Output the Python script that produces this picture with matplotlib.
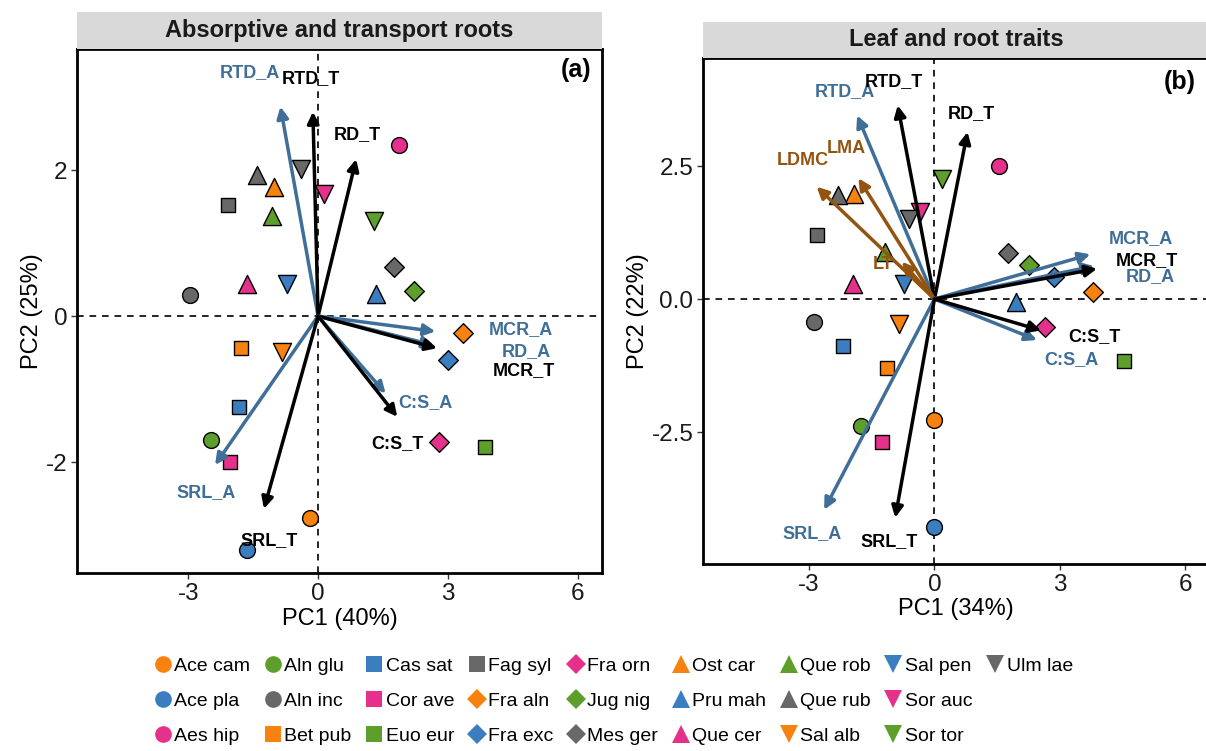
import matplotlib
matplotlib.use('Agg')
import matplotlib.pyplot as plt
from matplotlib.lines import Line2D

plt.rcParams['font.family'] = ['Liberation Sans', 'DejaVu Sans']
plt.rcParams['axes.unicode_minus'] = False

# species (alphabetical, as in the legend)
species = ['Ace cam', 'Ace pla', 'Aes hip', 'Aln glu', 'Aln inc',
           'Bet pub', 'Cas sat', 'Cor ave', 'Euo eur', 'Fag syl',
           'Fra aln', 'Fra exc', 'Fra orn', 'Jug nig', 'Mes ger',
           'Ost car', 'Pru mah', 'Que cer', 'Que rob', 'Que rub',
           'Sal alb', 'Sal pen', 'Sor auc', 'Sor tor', 'Ulm lae']

# panel (a) scores
pc1_a = [-0.19, -1.64, 1.87, -2.47, -2.97, -1.77, -1.82, -2.04, 3.85, -2.09,
         3.34, 3.00, 2.80, 2.22, 1.76, -1.01, 1.33, -1.65, -1.07, -1.41,
         -0.84, -0.71, 0.14, 1.30, -0.39]
pc2_a = [-2.77, -3.20, 2.34, -1.70, 0.29, -0.44, -1.25, -2.00, -1.80, 1.52,
         -0.23, -0.60, -1.73, 0.35, 0.67, 1.77, 0.30, 0.44, 1.37, 1.93,
         -0.49, 0.44, 1.68, 1.31, 2.02]

# panel (b) scores
pc1_b = [0.00, 0.00, 1.55, -1.76, -2.89, -1.13, -2.18, -1.25, 4.54, -2.81,
         3.80, 2.87, 2.64, 2.27, 1.76, -1.93, 1.96, -1.94, -1.19, -2.30,
         -0.86, -0.72, -0.34, 0.19, -0.60]
pc2_b = [-2.28, -4.29, 2.50, -2.39, -0.44, -1.29, -0.89, -2.69, -1.16, 1.21,
         0.13, 0.41, -0.53, 0.64, 0.87, 1.98, -0.05, 0.29, 0.89, 1.95,
         -0.46, 0.29, 1.64, 2.26, 1.51]

# loadings panel (a)
traits_a = ['RTD_A', 'RTD_T', 'RD_T', 'MCR_A', 'RD_A', 'MCR_T', 'C:S_A', 'C:S_T', 'SRL_A', 'SRL_T']
load1_a = [-0.87, -0.12, 0.88, 2.71, 2.68, 2.75, 1.56, 1.83, -2.38, -1.25]
load2_a = [2.87, 2.80, 2.15, -0.21, -0.40, -0.44, -1.06, -1.38, -2.04, -2.64]
lab1_a = [-1.57, -0.16, 0.90, 4.68, 4.81, 4.75, 2.49, 1.83, -2.59, -1.13]
lab2_a = [3.34, 3.26, 2.49, -0.19, -0.49, -0.75, -1.18, -1.74, -2.42, -3.07]

# loadings panel (b)
traits_b = ['RTD_A', 'RTD_T', 'RD_T', 'LDMC', 'LMA', 'LT', 'MCR_A', 'RD_A', 'MCR_T',
            'C:S_A', 'C:S_T', 'SRL_A', 'SRL_T']
load1_b = [-1.85, -0.88, 0.79, -2.82, -1.82, -0.78, 3.73, 3.82, 3.89, 2.45, 2.55, -2.64, -0.94]
load2_b = [3.45, 3.64, 3.14, 2.11, 2.27, 0.70, 0.84, 0.62, 0.57, -0.77, -0.59, -3.96, -4.11]
lab1_b = [-2.15, -0.97, 0.88, -3.15, -2.11, -1.23, 4.93, 5.16, 5.08, 3.27, 3.84, -2.93, -1.08]
lab2_b = [3.89, 4.08, 3.48, 2.61, 2.83, 0.64, 1.14, 0.43, 0.73, -1.13, -0.71, -4.41, -4.55]

# styles
fill = {'orange': '#F8820F', 'blue': '#3B7DBF', 'pink': '#E5308C',
        'green': '#5E9F2C', 'grey': '#686868'}
colour_cycle = ['orange', 'blue', 'pink', 'green', 'grey']
shape_cycle = ['o', 's', 'D', '^', 'v']
shape_size = {'o': 130, 's': 110, 'D': 100, '^': 170, 'v': 170}
legend_size = {'o': 12, 's': 11, 'D': 10, '^': 13, 'v': 13}
arrow_col = {'A': '#3F6E98', 'T': 'black', 'L': '#93540F'}


def trait_group(t):
    if t.endswith('_A'):
        return 'A'
    if t.endswith('_T'):
        return 'T'
    return 'L'


def panel(ax, x, y, traits, l1, l2, t1, t2, title, tag, xlab, ylab,
          xlim, ylim, yticks, tag_xy, strip_rect):
    ax.axhline(0, color='black', lw=1.2, ls=(0, (4, 3.5)), zorder=1)
    ax.axvline(0, color='black', lw=1.2, ls=(0, (4, 3.5)), zorder=1)
    for i in range(len(species)):
        mk = shape_cycle[i // 5]
        ax.scatter(x[i], y[i], s=shape_size[mk], marker=mk,
                   color=fill[colour_cycle[i % 5]], edgecolor='black',
                   linewidth=1.0, zorder=2)
    for i, t in enumerate(traits):
        c = arrow_col[trait_group(t)]
        ax.annotate('', xy=(l1[i], l2[i]), xytext=(0, 0),
                    arrowprops=dict(arrowstyle='-|>', color=c, lw=2.5,
                                    mutation_scale=17, shrinkA=0, shrinkB=0),
                    zorder=3)
        ax.text(t1[i], t2[i], t, color=c, fontsize=13, fontweight='bold',
                ha='center', va='center', zorder=4)
    ax.text(tag_xy[0], tag_xy[1], tag, fontsize=18, fontweight='bold',
            ha='center', va='center')
    ax.set_xlim(xlim)
    ax.set_ylim(ylim)
    ax.set_xticks([-3, 0, 3, 6])
    ax.set_xticklabels(['-3', '0', '3', '6'])
    ax.set_yticks(yticks)
    ax.tick_params(labelsize=17.5, length=4, width=1, color='#333333',
                   labelcolor='#1a1a1a', pad=3)
    ax.set_xlabel(xlab, fontsize=17, labelpad=2)
    ax.set_ylabel(ylab, fontsize=17, labelpad=2)
    for sp in ax.spines.values():
        sp.set_linewidth(2.0)
    strip = fig.add_axes(strip_rect)
    strip.set_facecolor('#D9D9D9')
    strip.set_xticks([])
    strip.set_yticks([])
    for sp in strip.spines.values():
        sp.set_visible(False)
    strip.text(0.5, 0.5, title, fontsize=17, fontweight='bold',
               color='#1a1a1a', ha='center', va='center')


fig = plt.figure(figsize=(12.06, 7.51), dpi=100)

ax_a = fig.add_axes([77 / 1206, 1 - 573 / 751, 525 / 1206, 524 / 751])
panel(ax_a, pc1_a, pc2_a, traits_a, load1_a, load2_a, lab1_a, lab2_a,
      'Absorptive and transport roots', '(a)', 'PC1 (40%)', 'PC2 (25%)',
      (-5.57, 6.56), (-3.52, 3.66), [-2, 0, 2], (5.96, 3.37),
      [77 / 1206, 1 - 49 / 751, 525 / 1206, 37 / 751])
ax_a.set_yticklabels(['-2', '0', '2'])

ax_b = fig.add_axes([703 / 1206, 1 - 564 / 751, 506 / 1206, 506 / 751])
panel(ax_b, pc1_b, pc2_b, traits_b, load1_b, load2_b, lab1_b, lab2_b,
      'Leaf and root traits', '(b)', 'PC1 (34%)', 'PC2 (22%)',
      (-5.54, 6.57), (-4.98, 4.53), [-2.5, 0.0, 2.5], (5.87, 4.08),
      [703 / 1206, 1 - 58 / 751, 506 / 1206, 36 / 751])
ax_b.set_yticklabels(['-2.5', '0.0', '2.5'])

handles = []
for i, sp_name in enumerate(species):
    mk = shape_cycle[i // 5]
    handles.append(Line2D([], [], linestyle='none', marker=mk,
                          markersize=legend_size[mk],
                          markerfacecolor=fill[colour_cycle[i % 5]],
                          markeredgewidth=0))
# two blank slots so the last column holds only Ulm lae
blank = Line2D([], [], linestyle='none', marker=None)
fig.legend(handles + [blank, blank], species + ['', ''], ncol=9, loc='center',
           bbox_to_anchor=(0.509, 1 - 701 / 751), frameon=False,
           prop={'size': 14},
           handlelength=0.8, handletextpad=0.2, columnspacing=0.75,
           labelspacing=0.88, borderpad=0)

fig.savefig('out.png', dpi=100)
